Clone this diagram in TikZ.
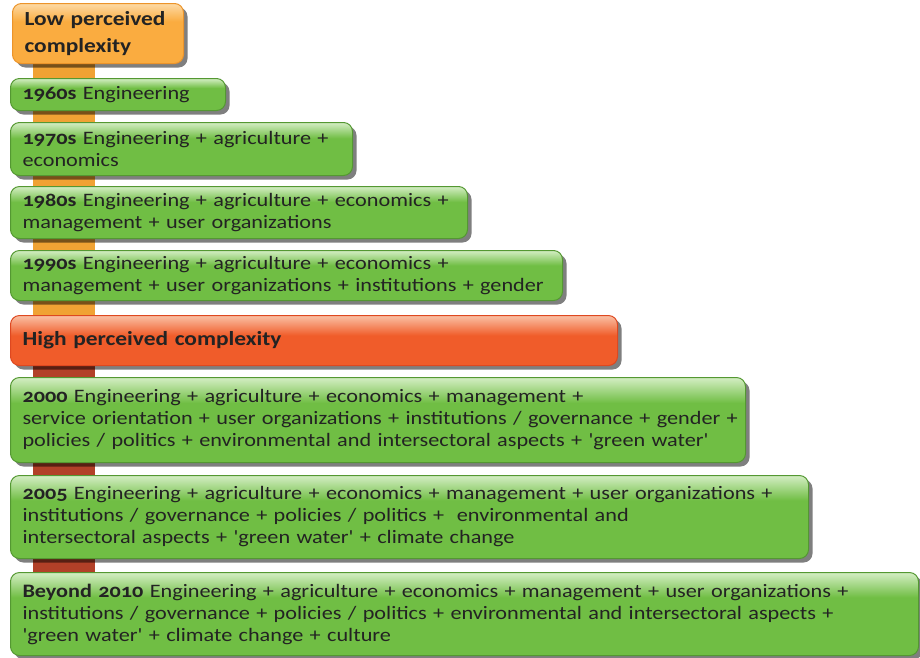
\documentclass[tikz,border=0pt]{standalone}
\usepackage{fontspec}
\setmainfont{Carlito}[Ligatures=TeXOff, FakeStretch=1.17]
\usetikzlibrary{shadows,backgrounds}

\definecolor{boxgreen}{RGB}{112,190,68}
\definecolor{greenedge}{RGB}{84,152,50}
\definecolor{greenhi}{RGB}{212,238,196}
\definecolor{lowfill}{RGB}{250,172,64}
\definecolor{lowhi}{RGB}{253,218,165}
\definecolor{lowedge}{RGB}{236,148,42}
\definecolor{highfill}{RGB}{240,92,42}
\definecolor{highhi}{RGB}{250,192,165}
\definecolor{highedge}{RGB}{222,72,32}
\definecolor{lowstrip}{RGB}{240,162,52}
\definecolor{highstrip}{RGB}{178,64,40}
\definecolor{textgray}{RGB}{35,35,35}

\pgfdeclareverticalshading{greengloss}{100bp}{color(0bp)=(boxgreen); color(25bp)=(boxgreen); color(60bp)=(boxgreen); color(75bp)=(greenhi); color(100bp)=(greenhi)}
\pgfdeclareverticalshading{lowgloss}{100bp}{color(0bp)=(lowfill); color(25bp)=(lowfill); color(60bp)=(lowfill); color(75bp)=(lowhi); color(100bp)=(lowhi)}
\pgfdeclareverticalshading{highgloss}{100bp}{color(0bp)=(highfill); color(25bp)=(highfill); color(55bp)=(highfill); color(75bp)=(highhi); color(100bp)=(highhi)}

\newcommand{\yr}[1]{{\bfseries\addfontfeatures{Numbers=OldStyle}#1}}

\begin{document}
\begin{tikzpicture}[x=1pt,y=-1pt,
    stage/.style={anchor=north west, draw=greenedge, line width=1pt, rounded corners=9pt,
      shade, shading=greengloss, inner xsep=12pt, inner ysep=2pt, align=left,
      font=\fontsize{19}{22}\selectfont, text=textgray,
      drop shadow={shadow xshift=4pt, shadow yshift=-4pt, fill=black, opacity=.5}},
    level/.style={stage, font=\fontsize{20}{27}\selectfont\bfseries}]
	\useasboundingbox (0,0) rectangle (920,657);
	% complexity levels
	\node[level, draw=lowedge, shading=lowgloss, minimum width=171pt, text width=147pt, minimum height=60pt] (low) at (12,3) {Low perceived\\complexity};
	\node[level, draw=highedge, shading=highgloss, minimum width=607pt, text width=583pt, minimum height=50pt] (high) at (10,315) {High perceived complexity};
	% decades
	\node[stage, minimum width=215pt, text width=191pt, minimum height=32pt] (y60) at (10,78) {\yr{1960s} Engineering};
	\node[stage, minimum width=342pt, text width=318pt, minimum height=53pt] (y70) at (10,122) {\yr{1970s} Engineering + agriculture +\\economics};
	\node[stage, minimum width=457pt, text width=433pt, minimum height=52pt] (y80) at (10,186) {\yr{1980s} Engineering + agriculture + economics +\\management + user organizations};
	\node[stage, minimum width=552pt, text width=528pt, minimum height=50pt] (y90) at (10,250) {\yr{1990s} Engineering + agriculture + economics +\\management + user organizations + institutions + gender};
	\node[stage, minimum width=735pt, text width=711pt, minimum height=85pt] (y00) at (10,377) {\yr{2000} Engineering + agriculture + economics + management +\\\mbox{service orientation + user organizations + institutions / governance + gender +}\\policies / politics + environmental and intersectoral aspects + 'green water'};
	\node[stage, minimum width=798pt, text width=774pt, minimum height=83pt] (y05) at (10,475) {\yr{2005} Engineering + agriculture + economics + management + user organizations +\\institutions / governance + policies / politics +\ \ environmental and\\intersectoral aspects + 'green water' + climate change};
	\node[stage, minimum width=908pt, text width=884pt, minimum height=83pt] (y10) at (10,572) {\yr{Beyond 2010} Engineering + agriculture + economics + management + user organizations +\\institutions / governance + policies / politics + environmental and intersectoral aspects +\\'green water' + climate change + culture};
	% strips behind the boxes
	\coordinate (stripL) at (33,0);
	\coordinate (stripR) at (95,0);
	\begin{pgfonlayer}{background}
		\fill[lowstrip] (stripL |- low.south) rectangle (stripR |- high.north);
		\fill[highstrip] (stripL |- high.south) rectangle (stripR |- y10.north);
	\end{pgfonlayer}
\end{tikzpicture}
\end{document}
